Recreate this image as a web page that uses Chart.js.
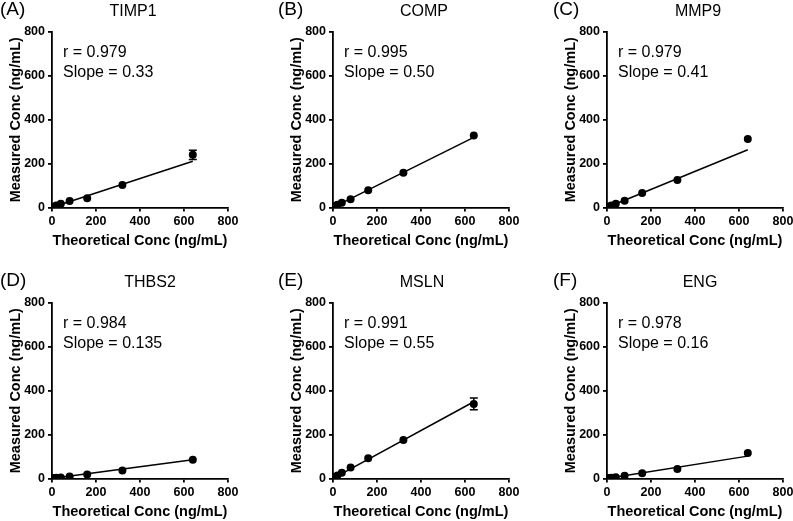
<!DOCTYPE html>
<html>
<head>
<meta charset="utf-8">
<script src="https://cdn.jsdelivr.net/npm/chart.js@4.4.0/dist/chart.umd.min.js"></script>
<style>
  body { margin: 0; background: #fff; }
  #fig { position: relative; width: 793px; height: 521px; overflow: hidden; }
  #fig canvas { position: absolute; }
</style>
</head>
<body>
<div id="fig"></div>
<script>
// data
const theoretical = [5, 10, 20, 40, 80, 160, 320, 640];
const axisTicks = [0, 200, 400, 600, 800];

const panelLetters = ['(A)', '(B)', '(C)', '(D)', '(E)', '(F)'];
const analytes = ['TIMP1', 'COMP', 'MMP9', 'THBS2', 'MSLN', 'ENG'];
const rValues = ['0.979', '0.995', '0.979', '0.984', '0.991', '0.978'];
const slopes = ['0.33', '0.50', '0.41', '0.135', '0.55', '0.16'];

const timp1 = [2, 4, 9, 17, 30, 42, 103, 240];
const comp = [3, 6, 12, 22, 38, 79, 158, 328];
const mmp9 = [2, 5, 9, 17, 31, 66, 125, 312];
const thbs2 = [1, 2, 3, 5, 9, 18, 36, 86];
const msln = [4, 7, 14, 26, 50, 92, 175, 340];
const eng = [1, 2, 3, 6, 12, 24, 43, 116];
const measured = [timp1, comp, mmp9, thbs2, msln, eng];

// SD of replicates (only visible on the top point of A and E)
const errTimp1 = [0, 0, 0, 0, 0, 0, 0, 21];
const errMsln = [0, 0, 0, 0, 0, 0, 0, 27];
const errors = [errTimp1, null, null, null, errMsln, null];

// regression lines, ends at x = 5 and x = 640
const fitX = [5, 640];
const fitY = [[2, 211], [3, 320], [2, 263], [1, 86], [3, 350], [1, 102]];

// layout (page px)
const colLeft = [-14, 267, 541];
const rowTop = [0, 271];
const letterX = [0, 278, 553, 0, 278, 553];
const titleX = [133, 424, 698, 150, 422, 700];

const FONT = '"Liberation Sans", Arial, sans-serif';

const textPlugin = {
  id: 'panelText',
  afterDatasetsDraw(chart, args, opts) {
    const ctx = chart.ctx;
    const a = chart.chartArea;
    const i = opts.index;
    ctx.save();
    // error bars
    const err = errors[i];
    if (err) {
      const xs = chart.scales.x, ys = chart.scales.y;
      ctx.strokeStyle = '#000';
      ctx.lineWidth = 1.5;
      err.forEach((e, k) => {
        if (!e) return;
        const px = xs.getPixelForValue(theoretical[k]);
        const hi = ys.getPixelForValue(measured[i][k] + e);
        const lo = ys.getPixelForValue(measured[i][k] - e);
        ctx.beginPath();
        ctx.moveTo(px, hi); ctx.lineTo(px, lo);
        ctx.moveTo(px - 4, hi); ctx.lineTo(px + 4, hi);
        ctx.moveTo(px - 4, lo); ctx.lineTo(px + 4, lo);
        ctx.stroke();
      });
    }
    ctx.fillStyle = '#000';
    ctx.textBaseline = 'middle';
    ctx.textAlign = 'left';
    ctx.font = '16px ' + FONT;
    ctx.fillText('r = ' + rValues[i], a.left + 11, a.top + 21);
    ctx.fillText('Slope = ' + slopes[i], a.left + 11, a.top + 41);
    const left = colLeft[i % 3];
    ctx.font = '19px ' + FONT;
    ctx.fillText(panelLetters[i], letterX[i] - left, 10);
    ctx.textAlign = 'center';
    ctx.font = '16px ' + FONT;
    ctx.fillText(analytes[i], titleX[i] - left, 12);
    ctx.restore();
  }
};

function axis(title, isX) {
  return {
    type: 'linear',
    min: axisTicks[0],
    max: axisTicks[axisTicks.length - 1],
    afterBuildTicks: s => { s.ticks = axisTicks.map(v => ({ value: v })); },
    afterFit: s => { if (isX) s.height = 42.5; else s.width = 45; },
    grid: { drawOnChartArea: false, drawTicks: true, tickLength: 4, color: '#000', lineWidth: 1.8 },
    border: { color: '#000', width: 1.8 },
    ticks: { color: '#000', padding: 3, maxRotation: 0, autoSkip: false,
             font: { family: FONT, weight: 'bold', size: 12.5 } },
    title: { display: true, text: title, color: '#000', padding: 0,
             font: { family: FONT, weight: 'bold', size: 14.5 } }
  };
}

const fig = document.getElementById('fig');
analytes.forEach((name, i) => {
  const cv = document.createElement('canvas');
  cv.width = 280; cv.height = 250;
  cv.style.left = colLeft[i % 3] + 'px';
  cv.style.top = rowTop[Math.floor(i / 3)] + 'px';
  fig.appendChild(cv);
  new Chart(cv, {
    type: 'scatter',
    data: {
      datasets: [
        {
          data: theoretical.map((x, k) => ({ x: x, y: measured[i][k] })),
          pointRadius: 4, pointBackgroundColor: '#000', pointBorderWidth: 0,
          showLine: false, order: 1
        },
        {
          data: fitX.map((x, k) => ({ x: x, y: fitY[i][k] })),
          showLine: true, borderColor: '#000', borderWidth: 1.5,
          pointRadius: 0, order: 2
        }
      ]
    },
    options: {
      responsive: false,
      animation: false,
      devicePixelRatio: 1,
      layout: { padding: { left: 21, top: 32, right: 38, bottom: 0 } },
      plugins: { legend: { display: false }, tooltip: { enabled: false }, panelText: { index: i } },
      scales: {
        x: axis('Theoretical Conc (ng/mL)', true),
        y: axis('Measured Conc (ng/mL)', false)
      }
    },
    plugins: [textPlugin]
  });
});
</script>
</body>
</html>
